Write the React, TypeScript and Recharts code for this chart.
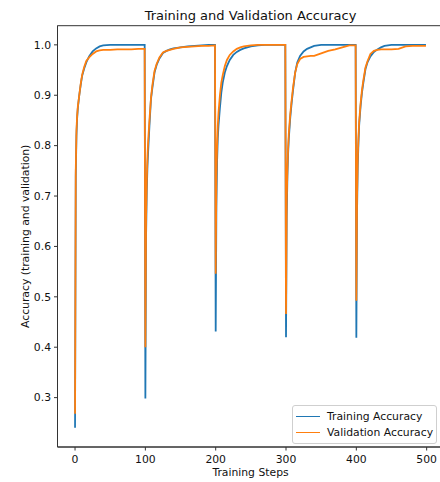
import React from 'react';
import { LineChart, Line, XAxis, YAxis, Legend, ReferenceArea, Label } from 'recharts';

const FONT = '"DejaVu Sans", sans-serif';

// training steps sampled in each of the five 100-step cycles
const steps = [
  0, 1, 2, 3, 4, 6, 8, 10, 13, 16, 20, 25, 30, 35, 40, 50, 60, 70, 80, 90, 99,
  100, 101, 102, 103, 104, 106, 108, 110, 113, 116, 120, 125, 130, 135, 140, 150, 160, 170, 180, 190, 199,
  200, 201, 202, 203, 204, 206, 208, 210, 213, 216, 220, 225, 230, 235, 240, 250, 260, 270, 280, 290, 299,
  300, 301, 302, 303, 304, 306, 308, 310, 313, 316, 320, 325, 330, 335, 340, 350, 360, 370, 380, 390, 399,
  400, 401, 402, 403, 404, 406, 408, 410, 413, 416, 420, 425, 430, 435, 440, 450, 460, 470, 480, 490, 499,
];

const trainingAccuracy = [
  0.240, 0.74, 0.82, 0.855, 0.875, 0.90, 0.92, 0.938, 0.953, 0.965, 0.977, 0.987, 0.993, 0.997, 0.999, 1.0, 1.0, 1.0, 1.0, 1.0, 1.0,
  0.298, 0.62, 0.71, 0.76, 0.79, 0.845, 0.893, 0.915, 0.945, 0.96, 0.973, 0.984, 0.988, 0.991, 0.993, 0.995, 0.997, 0.998, 0.999, 1.0, 1.0,
  0.431, 0.68, 0.77, 0.815, 0.84, 0.875, 0.905, 0.925, 0.945, 0.958, 0.970, 0.980, 0.986, 0.990, 0.993, 0.997, 0.999, 1.0, 1.0, 1.0, 1.0,
  0.420, 0.66, 0.74, 0.785, 0.815, 0.855, 0.885, 0.91, 0.945, 0.965, 0.978, 0.987, 0.992, 0.995, 0.998, 1.0, 1.0, 1.0, 1.0, 1.0, 1.0,
  0.419, 0.67, 0.76, 0.805, 0.84, 0.878, 0.905, 0.925, 0.952, 0.966, 0.977, 0.986, 0.991, 0.995, 0.998, 1.0, 1.0, 1.0, 1.0, 1.0, 1.0,
];

const validationAccuracy = [
  0.268, 0.75, 0.83, 0.86, 0.878, 0.90, 0.922, 0.94, 0.956, 0.968, 0.975, 0.982, 0.987, 0.989, 0.990, 0.990, 0.991, 0.991, 0.991, 0.992, 0.992,
  0.400, 0.66, 0.73, 0.78, 0.81, 0.855, 0.895, 0.92, 0.948, 0.962, 0.975, 0.985, 0.988, 0.990, 0.992, 0.995, 0.996, 0.997, 0.998, 0.998, 0.999,
  0.546, 0.74, 0.80, 0.84, 0.865, 0.90, 0.925, 0.94, 0.958, 0.970, 0.980, 0.987, 0.992, 0.995, 0.997, 0.999, 1.0, 1.0, 1.0, 1.0, 1.0,
  0.466, 0.69, 0.755, 0.795, 0.825, 0.862, 0.89, 0.915, 0.945, 0.962, 0.972, 0.976, 0.977, 0.978, 0.978, 0.983, 0.988, 0.991, 0.995, 0.999, 0.999,
  0.492, 0.70, 0.775, 0.815, 0.847, 0.883, 0.91, 0.93, 0.955, 0.968, 0.982, 0.988, 0.990, 0.991, 0.991, 0.991, 0.992, 0.997, 0.998, 0.998, 0.998,
];

const xTicks = [0, 100, 200, 300, 400, 500];
const yTicks = [0.3, 0.4, 0.5, 0.6, 0.7, 0.8, 0.9, 1.0];
const xDomain = [-24.95, 523.95];
const yDomain = [0.202, 1.038];

const data = steps.map((step, i) => ({
  step,
  train: trainingAccuracy[i],
  val: validationAccuracy[i],
}));

const tickStyle = { fontSize: 10.8, fill: '#111', fontFamily: FONT };

// matplotlib-like legend box
const renderLegend = (props: any) => (
  <div
    style={{
      border: '1px solid #cfcfcf',
      borderRadius: 3,
      background: 'rgba(255,255,255,0.85)',
      padding: '2px 3px 3px 3px',
      fontFamily: FONT,
      fontSize: 10.8,
      color: '#111',
    }}
  >
    {(props.payload || []).map((item: any) => (
      <div key={item.value} style={{ display: 'flex', alignItems: 'center', height: 16 }}>
        <span
          style={{
            display: 'inline-block',
            width: 24,
            height: 0,
            borderTop: `1.8px solid ${item.color}`,
            marginRight: 7,
          }}
        />
        <span style={{ whiteSpace: 'nowrap' }}>{item.value}</span>
      </div>
    ))}
  </div>
);

export default function App() {
  return (
    <div
      style={{
        position: 'absolute',
        left: 0,
        top: 0,
        width: 440,
        height: 482,
        overflow: 'hidden',
        background: '#fff',
        fontFamily: FONT,
      }}
    >
      <div
        style={{
          position: 'absolute',
          left: 57.5,
          top: 8.5,
          width: 386,
          textAlign: 'center',
          fontSize: 13,
          lineHeight: '13px',
          color: '#111',
          whiteSpace: 'nowrap',
        }}
      >
        Training and Validation Accuracy
      </div>
      <LineChart
        width={460}
        height={482}
        data={data}
        margin={{ top: 25.7, right: 16.5, bottom: 0, left: 0 }}
      >
        <XAxis
          dataKey="step"
          type="number"
          domain={xDomain}
          ticks={xTicks}
          allowDataOverflow
          height={35}
          tickSize={3.5}
          tickMargin={5}
          tick={tickStyle}
          stroke="#333"
        >
          <Label
            value="Training Steps"
            position="insideBottom"
            offset={6}
            style={{ fontSize: 10.8, fill: '#111', fontFamily: FONT }}
          />
        </XAxis>
        <YAxis
          type="number"
          domain={yDomain}
          ticks={yTicks}
          allowDataOverflow
          width={57.5}
          tickSize={3.5}
          tickMargin={3}
          tick={tickStyle}
          tickFormatter={(v: number) => v.toFixed(1)}
          stroke="#333"
        >
          <Label
            value="Accuracy (training and validation)"
            angle={-90}
            position="insideLeft"
            offset={25}
            style={{ textAnchor: 'middle', fontSize: 10.8, fill: '#111', fontFamily: FONT }}
          />
        </YAxis>
        <ReferenceArea
          x1={xDomain[0]}
          x2={xDomain[1]}
          y1={yDomain[0]}
          y2={yDomain[1]}
          fill="none"
          stroke="#333"
          strokeWidth={1}
          ifOverflow="visible"
        />
        <Line
          type="linear"
          dataKey="train"
          name="Training Accuracy"
          stroke="#1f77b4"
          strokeWidth={1.8}
          dot={false}
          isAnimationActive={false}
        />
        <Line
          type="linear"
          dataKey="val"
          name="Validation Accuracy"
          stroke="#ff7f0e"
          strokeWidth={1.8}
          dot={false}
          isAnimationActive={false}
        />
        <Legend
          layout="vertical"
          align="center"
          verticalAlign="middle"
          content={renderLegend}
          wrapperStyle={{ left: 292, top: 405, width: 'auto' }}
        />
      </LineChart>
    </div>
  );
}
